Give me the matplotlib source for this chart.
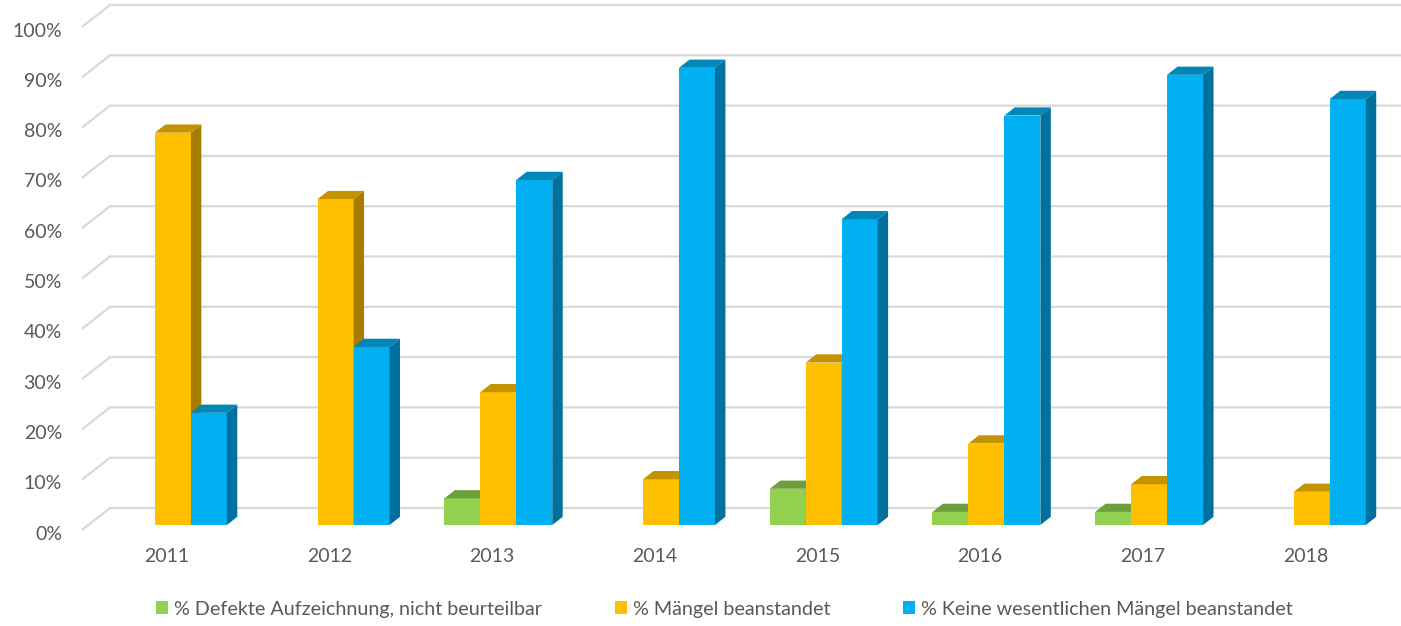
import numpy as np
import matplotlib
matplotlib.use('agg')
import matplotlib.pyplot as plt
from matplotlib.patches import Polygon, Patch

years = ['2011', '2012', '2013', '2014', '2015', '2016', '2017', '2018']
defekt = [0, 0, 5.3, 0, 7.2, 2.6, 2.6, 0]
maengel = [78.0, 64.8, 26.4, 9.1, 32.3, 16.2, 8.1, 6.6]
keine = [22.3, 35.4, 68.6, 90.9, 60.8, 81.4, 89.5, 84.7]
series_names = ['% Defekte Aufzeichnung, nicht beurteilbar',
                '% Mängel beanstandet',
                '% Keine wesentlichen Mängel beanstandet']
y_ticks = [0, 10, 20, 30, 40, 50, 60, 70, 80, 90, 100]

# front, top, side colours per series
colors = [('#92D050', '#6E9D3C', '#6A983A'),
          ('#FFC000', '#C49300', '#A77D00'),
          ('#00B0F0', '#0086B8', '#00719C')]

plt.rcParams['font.family'] = ['Lato', 'DejaVu Sans']
text_color = '#595959'
grid_color = '#D9D9D9'

fig = plt.figure(figsize=(14.01, 6.26), dpi=100)
ax = fig.add_axes([0, 0, 1, 1])
ax.set_xlim(-1.0237, 7.587)
ax.set_ylim(-19.09, 105.37)
ax.axis('off')

# oblique depth of the wall box
DX = 0.172
DY = 4.37
z0, z1 = 0.227, 0.60   # bar front / back depth
bw = 0.221
x_left = -0.52

# back wall and side wall gridlines
for v in y_ticks:
    ax.plot([x_left, x_left + DX, 8.0], [v, v + DY, v + DY],
            color=grid_color, lw=1.6, zorder=1, solid_capstyle='butt')
    ax.text(x_left - 0.123, v - 0.8, '{}%'.format(v), ha='right', va='center',
            fontsize=14, color=text_color)

for i, y in enumerate(years):
    ax.text(i, -5.3, y, ha='center', va='center', fontsize=14, color=text_color)

data = [defekt, maengel, keine]
offsets = [-bw, 0, bw]
ddx = (z1 - z0) * DX
ddy = (z1 - z0) * DY
z = 2
for i in range(len(years)):
    for k in range(3):
        h = data[k][i]
        if h <= 0:
            continue
        front, top, side = colors[k]
        xl = i + offsets[k] - bw / 2 + z0 * DX
        xr = xl + bw
        yb = z0 * DY
        yt = yb + h
        ax.bar(xl, h, width=bw, bottom=yb, align='edge', color=front,
               linewidth=0, zorder=z)
        ax.add_patch(Polygon([(xr, yb), (xr + ddx, yb + ddy),
                              (xr + ddx, yt + ddy), (xr, yt)],
                             closed=True, facecolor=side, lw=0, zorder=z))
        ax.add_patch(Polygon([(xl, yt), (xl + ddx, yt + ddy),
                              (xr + ddx, yt + ddy), (xr, yt)],
                             closed=True, facecolor=top, lw=0, zorder=z))
        z += 1

handles = [Patch(facecolor=c[0], edgecolor='none') for c in colors]
leg = ax.legend(handles, series_names, loc='center', bbox_to_anchor=(0.517, 0.027),
                ncol=3, frameon=False, fontsize=14.2, handlelength=0.6,
                handleheight=0.6, handletextpad=0.3, columnspacing=3.7)
for t in leg.get_texts():
    t.set_color(text_color)

fig.savefig('out.png', dpi=100)
